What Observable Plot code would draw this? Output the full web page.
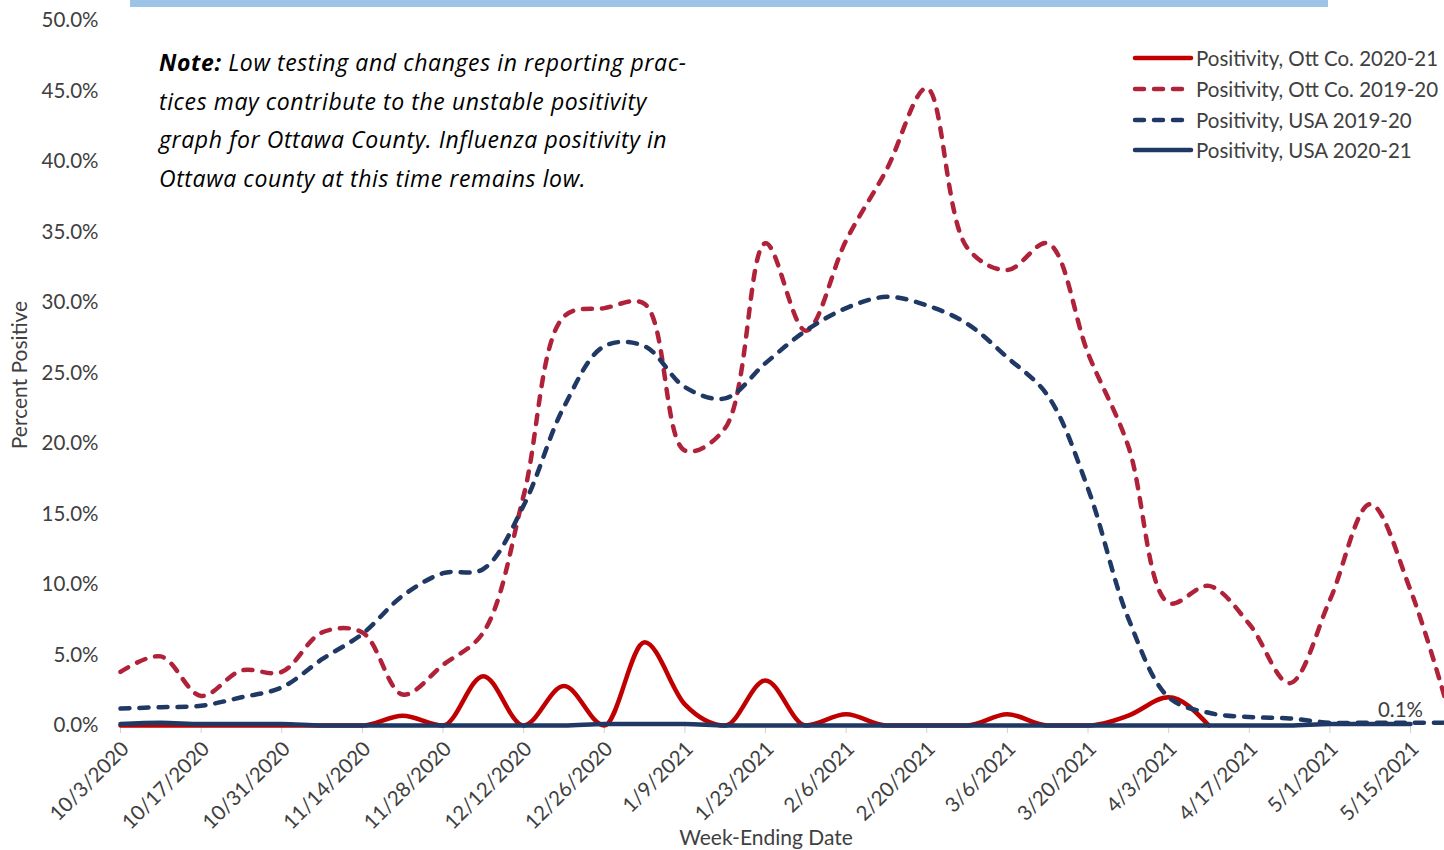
<!DOCTYPE html>
<html>
<head>
<meta charset="utf-8">
<script src="https://cdn.jsdelivr.net/npm/d3@7"></script>
<script src="https://cdn.jsdelivr.net/npm/@observablehq/plot@0.6"></script>
<style>
  html, body { margin: 0; padding: 0; background: #fff; }
  #wrap { position: relative; width: 1444px; height: 850px; overflow: hidden; font-family: Lato, "Open Sans", sans-serif; }
  #titlebar { position: absolute; left: 130px; top: 0; width: 1198px; height: 7px; background: #9DC3E6; }
  #note { position: absolute; left: 159px; top: 43px; font-family: "Open Sans", Lato, sans-serif; font-size: 23px; letter-spacing: 0.6px; line-height: 38.5px; font-style: italic; color: #000; white-space: nowrap; }
  #note b { font-weight: 700; }
  #legend { position: absolute; left: 1132px; top: 43px; font-size: 20.5px; color: #404040; white-space: nowrap; }
  #legend .row { height: 30.7px; display: flex; align-items: center; }
  #legend svg { margin-right: 2px; }
  #xlabel { position: absolute; left: 766px; top: 824px; transform: translateX(-50%); font-size: 21px; color: #404040; white-space: nowrap; }
  #ylabel { position: absolute; left: 18px; top: 375px; transform: translate(-50%, -50%) rotate(-90deg); font-size: 21px; color: #404040; white-space: nowrap; }
  #chart svg { position: absolute; left: 0; top: 0; }
</style>
</head>
<body>
<div id="wrap">
  <div id="chart"></div>
  <div id="titlebar"></div>
  <div id="note"><b>Note:</b> Low testing and changes in reporting prac-<br>tices may contribute to the unstable positivity<br>graph for Ottawa County. Influenza positivity in<br>Ottawa county at this time remains low.</div>
  <div id="legend"></div>
  <div id="xlabel">Week-Ending Date</div>
  <div id="ylabel">Percent Positive</div>
</div>
<script>
// ---- Data ----
const weeks = ["10/3/2020","10/10/2020","10/17/2020","10/24/2020","10/31/2020","11/7/2020","11/14/2020","11/21/2020","11/28/2020","12/5/2020","12/12/2020","12/19/2020","12/26/2020","1/2/2021","1/9/2021","1/16/2021","1/23/2021","1/30/2021","2/6/2021","2/13/2021","2/20/2021","2/27/2021","3/6/2021","3/13/2021","3/20/2021","3/27/2021","4/3/2021","4/10/2021","4/17/2021","4/24/2021","5/1/2021","5/8/2021","5/15/2021","5/22/2021"];

const xTickLabels = ["10/3/2020","10/17/2020","10/31/2020","11/14/2020","11/28/2020","12/12/2020","12/26/2020","1/9/2021","1/23/2021","2/6/2021","2/20/2021","3/6/2021","3/20/2021","4/3/2021","4/17/2021","5/1/2021","5/15/2021"];
const yTicks = [0, 5, 10, 15, 20, 25, 30, 35, 40, 45, 50];

// Positivity, Ott Co. 2020-21 (%)
const ottCo2021 = [0,0,0,0,0,0,0,0.7,0,3.5,0,2.8,0,5.9,1.5,0,3.2,0,0.8,0,0,0,0.8,0,0,0.7,2.0,0];
// Positivity, Ott Co. 2019-20 (%)
const ottCo1920 = [3.8,4.9,2.1,3.9,3.8,6.6,6.6,2.2,4.3,6.6,16.3,29.0,29.6,29.9,19.5,21.1,34.2,28.0,34.4,39.4,45.2,33.9,32.3,34.2,26.4,19.8,8.7,9.9,7.2,3.0,8.9,15.7,9.6,0.5];
// Positivity, USA 2019-20 (%)
const usa1920 = [1.2,1.3,1.4,2.0,2.7,4.7,6.5,9.2,10.8,11.1,15.6,22.6,26.9,26.9,24.0,23.2,25.7,28.0,29.6,30.4,29.8,28.5,26.1,23.4,16.8,7.6,2.0,0.9,0.6,0.5,0.2,0.2,0.2,0.2];
// Positivity, USA 2020-21 (%)
const usa2021 = [0.1,0.2,0.1,0.1,0.1,0,0,0,0,0,0,0,0.1,0.1,0.1,0,0,0,0,0,0,0,0,0,0,0,0,0,0,0,0.1,0.1,0.1];

const seriesNames = ["Positivity, Ott Co. 2020-21","Positivity, Ott Co. 2019-20","Positivity, USA 2019-20","Positivity, USA 2020-21"];
const seriesColors = ["#C00000","#B0223A","#1F3864","#1F3864"];
const seriesDashed = [false, true, true, false];
const seriesCurves = ["monotone-x","catmull-rom","catmull-rom","monotone-x"];
const lastLabel = "0.1%";

// ---- Build ----
const parse = d3.utcParse("%m/%d/%Y");
const fmt = d3.utcFormat("%-m/%-d/%Y");
const toRows = vals => vals.map((v, i) => ({date: parse(weeks[i]), value: v}));
const allSeries = [ottCo2021, ottCo1920, usa1920, usa2021].map(toRows);

const dash = "9,10";
const lineMarks = allSeries.map((rows, k) => Plot.line(rows, {
  x: "date", y: "value", stroke: seriesColors[k], strokeWidth: 4.5,
  strokeDasharray: seriesDashed[k] ? dash : null, strokeLinecap: "round",
  curve: seriesCurves[k]
}));

const usaLast = allSeries[3][allSeries[3].length - 1];

const chart = Plot.plot({
  width: 1444,
  height: 850,
  marginLeft: 120,
  marginRight: 34,
  marginTop: 20,
  marginBottom: 125,
  style: {fontFamily: "Lato, 'Open Sans', sans-serif", fontSize: "20.5px", color: "#404040", background: "transparent", overflow: "hidden"},
  x: {type: "utc", domain: [parse(weeks[0]), parse("5/15/2021")], ticks: xTickLabels.map(parse), tickFormat: fmt, tickRotate: -45, tickSize: 8, tickPadding: 3, label: null},
  y: {domain: [0, 50], ticks: yTicks, tickFormat: d => d.toFixed(1) + "%", tickSize: 0, tickPadding: 22, label: null},
  marks: [
    Plot.ruleY([0], {stroke: "#d9d9d9"}),
    ...lineMarks,
    Plot.text([usaLast], {x: "date", y: "value", text: () => lastLabel, dx: -10, dy: -14, fill: "#404040", fontSize: 20.5})
  ]
});
document.getElementById("chart").appendChild(chart);

// style x tick lines gray
chart.querySelectorAll('[aria-label="x-axis tick"] path, [aria-label="x-axis"] line').forEach(p => p.setAttribute("stroke", "#d0d0d0"));
// nudge rotated x tick labels to sit like the reference
chart.querySelectorAll('[aria-label="x-axis tick label"] text').forEach(t => {
  const old = t.getAttribute("transform") || "";
  t.setAttribute("transform", `translate(5,9) ${old}`);
});

// ---- Legend ----
const legend = document.getElementById("legend");
seriesNames.forEach((name, k) => {
  const row = document.createElement("div");
  row.className = "row";
  row.innerHTML = `<svg width="62" height="10"><line x1="3" y1="5" x2="59" y2="5" stroke="${seriesColors[k]}" stroke-width="4.5" stroke-linecap="round" ${seriesDashed[k] ? 'stroke-dasharray="' + dash + '"' : ''}/></svg><span>${name}</span>`;
  legend.appendChild(row);
});
</script>
</body>
</html>
